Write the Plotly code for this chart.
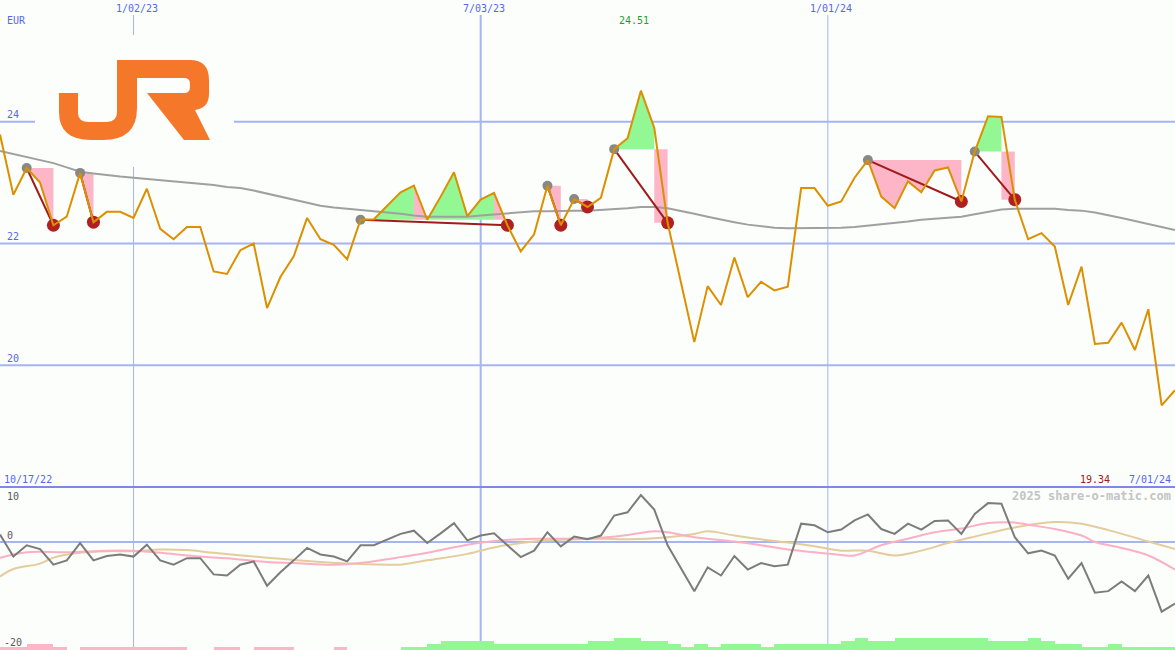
import plotly.graph_objects as go
import pandas as pd

W, H = 1175, 650

# ---------------- data ----------------
start_date = "2022-10-24"
n_weeks = 89
dates = pd.date_range(start_date, periods=n_weeks, freq="7D")

price = [23.79, 22.80, 23.24, 23.00, 22.30, 22.44, 23.16, 22.35, 22.52, 22.52,
         22.42, 22.90, 22.24, 22.07, 22.27, 22.27, 21.54, 21.50, 21.89, 22.00,
         20.94, 21.45, 21.79, 22.42, 22.07, 21.98, 21.74, 22.39, 22.40, 22.62,
         22.84, 22.95, 22.39, 22.77, 23.17, 22.45, 22.72, 22.83, 22.30, 21.87,
         22.15, 22.95, 22.30, 22.73, 22.60, 22.75, 23.55, 23.73, 24.51, 23.90,
         22.34, 21.36, 20.38, 21.30, 20.99, 21.77, 21.12, 21.37, 21.23, 21.29,
         22.91, 22.91, 22.62, 22.69, 23.08, 23.37, 22.77, 22.58, 23.02, 22.84,
         23.20, 23.25, 22.69, 23.51, 24.09, 24.08, 22.72, 22.07, 22.17, 21.95,
         20.99, 21.62, 20.35, 20.37, 20.70, 20.25, 20.92, 19.34, 19.59]

ma_slow = [23.52, 23.47, 23.42, 23.37, 23.32, 23.25, 23.18, 23.15, 23.12, 23.10,
           23.08, 23.06, 23.04, 23.02, 23.01, 22.99, 22.96, 22.93, 22.91, 22.87,
           22.82, 22.77, 22.72, 22.67, 22.62, 22.59, 22.57, 22.55, 22.54, 22.52,
           22.49, 22.46, 22.44, 22.44, 22.44, 22.44, 22.46, 22.48, 22.50, 22.52,
           22.53, 22.53, 22.54, 22.54, 22.54, 22.55, 22.56, 22.58, 22.60, 22.60,
           22.58, 22.54, 22.49, 22.44, 22.39, 22.35, 22.31, 22.28, 22.26, 22.25,
           22.25, 22.25, 22.25, 22.26, 22.27, 22.29, 22.31, 22.33, 22.36, 22.39,
           22.41, 22.43, 22.44, 22.48, 22.52, 22.56, 22.57, 22.57, 22.57, 22.57,
           22.55, 22.54, 22.51, 22.47, 22.42, 22.37, 22.32, 22.27, 22.22]

# pattern = (peak index, trough index)
patterns = [(2, 4), (6, 7), (27, 38), (41, 42), (43, 44), (46, 50), (65, 72), (73, 76)]
pink_segments = [31, 37]      # rising-area segments shown in pink
drop_segments = [49, 75]      # final drops shown as pink blocks

oscillator = [1.4, -2.7, -0.6, -1.3, -4.2, -3.4, -0.2, -3.4, -2.6, -2.3,
              -2.7, -0.5, -3.4, -4.2, -3.0, -3.0, -6.0, -6.2, -4.2, -3.6,
              -8.1, -5.6, -3.4, -1.1, -2.3, -2.7, -3.6, -0.6, -0.6, 0.4,
              1.5, 2.1, -0.2, 1.6, 3.5, 0.3, 1.2, 1.6, -0.6, -2.8,
              -1.6, 1.8, -0.8, 1.0, 0.5, 1.2, 4.9, 5.5, 8.7, 6.0,
              -0.6, -4.8, -9.1, -4.7, -6.2, -2.6, -5.1, -3.9, -4.5, -4.2,
              3.4, 3.1, 1.8, 2.3, 4.0, 5.1, 2.4, 1.5, 3.4, 2.3,
              3.9, 4.0, 1.5, 5.2, 7.2, 7.1, 0.9, -2.1, -1.6, -2.5,
              -6.8, -3.9, -9.4, -9.1, -7.3, -9.1, -6.2, -12.9, -11.4]

pink_avg_idx = [0, 2, 5, 8, 10, 12, 15, 17, 20, 22, 25, 27, 29, 30, 32, 35, 37, 40, 43, 45,
                47, 49, 50, 52, 55, 57, 59, 61, 63, 64, 66, 68, 70, 72, 74, 76, 77, 79, 81, 82,
                84, 86, 88]
pink_avg_val = [-2.9, -1.9, -1.9, -1.6, -1.6, -2.0, -2.7, -3.0, -3.7, -3.9, -4.2, -3.9, -3.2, -2.8,
                -2.0, -0.5, 0.2, 0.6, 0.6, 0.8, 1.3, 2.0, 1.8, 0.9, 0.1, -0.6, -1.4, -1.9, -2.4,
                -2.5, -0.6, 0.6, 1.8, 2.5, 3.5, 3.6, 3.2, 2.4, 1.2, 0.0, -1.1, -2.5, -5.1]

tan_avg_idx = [0, 1, 3, 4, 6, 8, 10, 12, 14, 16, 19, 21, 24, 26, 29, 30, 32, 35, 37, 40, 42, 45,
               47, 50, 52, 53, 55, 57, 59, 61, 63, 65, 67, 69, 71, 73, 76, 79, 81, 83, 86, 88]
tan_avg_val = [-6.4, -5.0, -4.0, -2.9, -2.0, -1.7, -1.7, -1.4, -1.5, -2.0, -2.7, -3.1, -3.7, -4.0,
               -4.2, -4.2, -3.4, -2.2, -1.0, 0.1, 0.4, 0.6, 0.5, 0.9, 1.5, 2.0, 1.2, 0.5, -0.1,
               -0.8, -1.6, -1.6, -2.5, -1.6, -0.2, 1.0, 2.7, 3.7, 3.4, 2.2, 0.1, -1.3]

# weekly strength blocks (negative = pink, positive = green), one per week interval
strength = [-1, -1, -2, -2, -1, 0, -1, -1, -1, -1, -1, -1, -1, -1, 0, 0, -1, -1, 0, -1,
            -1, -1, 0, 0, 0, -1, 0, 0, 0, 0, 1, 1, 2, 3, 3, 3, 3, 2, 2, 2,
            2, 2, 2, 2, 3, 3, 4, 4, 3, 3, 2, 1, 2, 1, 2, 2, 2, 1, 2, 2,
            2, 2, 2, 3, 4, 3, 3, 4, 4, 4, 4, 4, 4, 4, 3, 3, 3, 4, 3, 2,
            2, 1, 1, 2, 1, 1, 1, 1]

price_grid = [20, 22, 24]
date_grid = ["2023-01-02", "2023-07-03", "2024-01-01"]
date_grid_labels = ["1/02/23", "7/03/23", "1/01/24"]
date_grid_widths = [1, 2, 1]
price_max_label = "24.51"
price_min_label = "19.34"
first_date_label = "10/17/22"
last_date_label = "7/01/24"
osc_labels = [("10", 496), ("0", 535), ("-20", 642)]

# ---------------- styles ----------------
BG = "#fbfefb"
GRID = "#a7b4f3"
BLUE_TXT = "#5567ee"
GREEN_FILL = "#93f893"
PINK_FILL = "#fcb6c8"
ORANGE = "#dc9000"
FONT = "DejaVu Sans Mono"


def px(x, y):
    return x / W, 1 - y / H


fig = go.Figure()

week = pd.Timedelta(days=7)


def add_poly(xs, ys, color):
    fig.add_trace(go.Scatter(x=xs, y=ys, fill="toself", fillcolor=color, mode="none",
                             line=dict(width=0), hoverinfo="skip", showlegend=False,
                             xaxis="x", yaxis="y"))


# build the filled areas between the price path and each pattern's start level
for s, e in patterns:
    L = price[s]
    pieces = []  # (color, [(date, value), ...] along the price path)
    for k in range(s, e):
        p0, p1 = price[k], price[k + 1]
        d0, d1 = dates[k], dates[k + 1]
        if k in drop_segments:
            add_poly([d0, d1, d1, d0], [L, L, p1, p1], PINK_FILL)
            continue
        up_color = PINK_FILL if k in pink_segments else GREEN_FILL
        if (p0 - L) * (p1 - L) < 0:
            t = (L - p0) / (p1 - p0)
            dc = d0 + (d1 - d0) * t
            pieces.append((up_color if p0 > L else PINK_FILL, [(d0, p0), (dc, L)]))
            pieces.append((up_color if p1 > L else PINK_FILL, [(dc, L), (d1, p1)]))
        else:
            c = up_color if max(p0, p1) > L else PINK_FILL
            pieces.append((c, [(d0, p0), (d1, p1)]))
    merged = []
    for c, pts in pieces:
        if merged and merged[-1][0] == c and merged[-1][1][-1][0] == pts[0][0]:
            merged[-1][1].extend(pts[1:])
        else:
            merged.append((c, list(pts)))
    for c, pts in merged:
        xs = [pts[0][0]] + [p[0] for p in pts] + [pts[-1][0]]
        ys = [L] + [p[1] for p in pts] + [L]
        add_poly(xs, ys, c)

# slow moving average
fig.add_trace(go.Scatter(x=dates, y=ma_slow, mode="lines", line=dict(color="#a0a0a0", width=2),
                         hoverinfo="skip", showlegend=False, xaxis="x", yaxis="y"))

# pattern connectors
cx, cy = [], []
for s, e in patterns:
    cx += [dates[s], dates[e], None]
    cy += [price[s], price[e], None]
fig.add_trace(go.Scatter(x=cx, y=cy, mode="lines", line=dict(color="#a01c1c", width=2),
                         hoverinfo="skip", showlegend=False, xaxis="x", yaxis="y"))

fig.add_trace(go.Scatter(x=[dates[s] for s, e in patterns], y=[price[s] for s, e in patterns],
                         mode="markers", marker=dict(color="#888888", size=10),
                         hoverinfo="skip", showlegend=False, xaxis="x", yaxis="y"))
fig.add_trace(go.Scatter(x=[dates[e] for s, e in patterns], y=[price[e] for s, e in patterns],
                         mode="markers", marker=dict(color="#b02020", size=13),
                         hoverinfo="skip", showlegend=False, xaxis="x", yaxis="y"))

# price line
fig.add_trace(go.Scatter(x=dates, y=price, mode="lines", line=dict(color=ORANGE, width=2),
                         hoverinfo="skip", showlegend=False, xaxis="x", yaxis="y"))

# ---- lower panel ----
bar_x = [dates[i] + week / 2 for i in range(len(strength))]
fig.add_trace(go.Bar(x=bar_x, y=[abs(v) for v in strength], width=7 * 86400000,
                     marker=dict(color=[GREEN_FILL if v > 0 else PINK_FILL for v in strength],
                                 line=dict(width=0)),
                     hoverinfo="skip", showlegend=False, xaxis="x", yaxis="y3"))
fig.add_trace(go.Scatter(x=[dates[i] for i in tan_avg_idx], y=tan_avg_val, mode="lines",
                         line=dict(color="#e4cc9c", width=2, shape="spline"),
                         hoverinfo="skip", showlegend=False, xaxis="x", yaxis="y2"))
fig.add_trace(go.Scatter(x=[dates[i] for i in pink_avg_idx], y=pink_avg_val, mode="lines",
                         line=dict(color="#fcb0c4", width=2, shape="spline"),
                         hoverinfo="skip", showlegend=False, xaxis="x", yaxis="y2"))
fig.add_trace(go.Scatter(x=dates, y=oscillator, mode="lines", line=dict(color="#7c7c7c", width=2),
                         hoverinfo="skip", showlegend=False, xaxis="x", yaxis="y2"))

# ---------------- shapes ----------------
shapes = []
for v in price_grid:
    shapes.append(dict(type="line", xref="paper", yref="y", x0=0, x1=1, y0=v, y1=v,
                       line=dict(color=GRID, width=2), layer="between"))
shapes.append(dict(type="line", xref="paper", yref="y2", x0=0, x1=1, y0=0, y1=0,
                   line=dict(color=GRID, width=2), layer="between"))
for d, wdt in zip(date_grid, date_grid_widths):
    shapes.append(dict(type="line", xref="x", yref="paper", x0=d, x1=d, y0=0, y1=px(0, 15)[1],
                       line=dict(color=GRID, width=wdt), layer="between"))
shapes.append(dict(type="line", xref="paper", yref="paper", x0=0, x1=1,
                   y0=px(0, 487)[1], y1=px(0, 487)[1],
                   line=dict(color="#7c89e8", width=2), layer="between"))
# logo backdrop
x0, y0 = px(35, 35)
x1, y1 = px(234, 167)
shapes.append(dict(type="rect", xref="paper", yref="paper", x0=x0, x1=x1, y0=y1, y1=y0,
                   fillcolor=BG, line=dict(width=0), layer="between"))


def path_from(cmds):
    out = []
    for c, pts in cmds:
        seg = c
        for (a, b) in pts:
            u, v = px(a, b)
            seg += f" {u:.5f},{v:.5f}"
        out.append(seg)
    return " ".join(out)


j_path = [("M", [(59, 93)]), ("L", [(78, 93)]), ("L", [(78, 113)]),
          ("Q", [(78, 122), (89, 122)]), ("L", [(107, 122)]), ("Q", [(117, 122), (117, 112)]),
          ("L", [(117, 60)]), ("L", [(137, 60)]), ("L", [(137, 108)]),
          ("Q", [(137, 140), (103, 140)]), ("L", [(91, 140)]), ("Q", [(59, 140), (59, 112)]),
          ("Z", [])]
r_path = [("M", [(136, 60)]), ("L", [(190, 60)]), ("Q", [(209, 60), (209, 80)]),
          ("L", [(209, 94)]), ("Q", [(209, 108), (195, 110)]), ("L", [(210, 140)]),
          ("L", [(184, 140)]), ("L", [(147, 93)]), ("L", [(184, 93)]),
          ("Q", [(190, 93), (190, 87)]), ("L", [(190, 84)]), ("Q", [(190, 78), (184, 78)]),
          ("L", [(136, 78)]), ("Z", [])]
for pth in (j_path, r_path):
    shapes.append(dict(type="path", xref="paper", yref="paper", path=path_from(pth),
                       fillcolor="#f5782a", line=dict(width=0), layer="between"))

# ---------------- annotations ----------------
ann = []


def text_px(t, x, y, color, anchor="left", size=10, bold=False):
    u, v = px(x, y)
    ann.append(dict(text=f"<b>{t}</b>" if bold else t, xref="paper", yref="paper", x=u, y=v,
                    xanchor=anchor, yanchor="middle", showarrow=False,
                    font=dict(family=FONT, size=size, color=color)))


text_px("EUR", 5, 20, BLUE_TXT)
for d, lab in zip(date_grid, date_grid_labels):
    ann.append(dict(text=lab, xref="x", yref="paper", x=d, y=px(0, 9)[1], xshift=3,
                    xanchor="center", yanchor="middle", showarrow=False,
                    font=dict(family=FONT, size=10, color=BLUE_TXT)))
for v in price_grid:
    ann.append(dict(text=str(v), xref="paper", yref="y", x=px(5, 0)[0], y=v, yshift=7,
                    xanchor="left", yanchor="middle", showarrow=False,
                    font=dict(family=FONT, size=10, color=BLUE_TXT)))
text_px(price_max_label, 634, 21, "#1fa01f", anchor="center")
text_px(first_date_label, 2, 479, BLUE_TXT)
text_px(price_min_label, 1112, 479, "#a01818", anchor="right")
text_px(last_date_label, 1173, 479, BLUE_TXT, anchor="right")
text_px("2025 share-o-matic.com", 1173, 496, "#c4c4c4", anchor="right", size=12, bold=True)
for t, yy in osc_labels:
    text_px(t, 5 if t != "-20" else 2, yy, "#5a5a5a")

fig.update_layout(
    width=W, height=H, margin=dict(l=0, r=0, t=0, b=0),
    paper_bgcolor=BG, plot_bgcolor=BG, showlegend=False, bargap=0,
    xaxis=dict(domain=[0, 1], range=[dates[0], dates[-1]], visible=False, anchor="y2",
               showgrid=False, zeroline=False),
    yaxis=dict(domain=[163 / H, 1], range=[18, 26], visible=False, anchor="x",
               showgrid=False, zeroline=False),
    yaxis2=dict(domain=[0, 162 / H], range=[-20, 10], visible=False, anchor="x",
                showgrid=False, zeroline=False),
    yaxis3=dict(overlaying="y2", range=[0, 54], visible=False, anchor="x",
                showgrid=False, zeroline=False),
    shapes=shapes, annotations=ann,
)

fig.write_html("out.html", config={"displayModeBar": False},
               post_script="document.body.style.margin='0';document.body.style.padding='0';"
                           "document.body.style.overflow='hidden';")
